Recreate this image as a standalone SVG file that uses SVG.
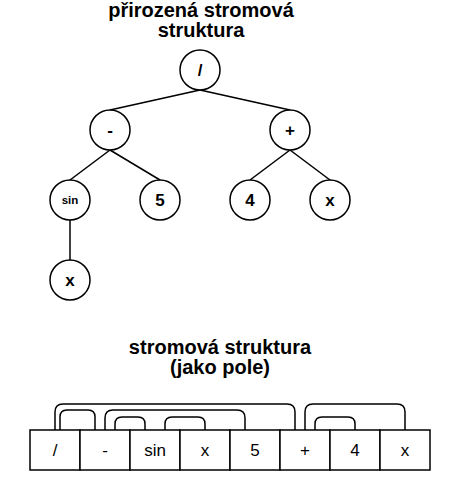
<svg xmlns="http://www.w3.org/2000/svg" width="457" height="490" viewBox="0 0 457 490">
<style>
.title{font-family:"Liberation Sans",Arial,sans-serif;font-size:20px;font-weight:bold;fill:#000;text-anchor:middle}
.node circle{fill:#fff;stroke:#000;stroke-width:1.5}
.node text{font-family:"Liberation Sans",Arial,sans-serif;font-size:17px;font-weight:bold;fill:#000;text-anchor:middle}
.node text.small{font-size:11.5px}
.edges line{stroke:#000;stroke-width:1.5}
.cell rect{fill:#fff;stroke:#000;stroke-width:1.5}
.cell text{font-family:"Liberation Sans",Arial,sans-serif;font-size:17px;fill:#000;text-anchor:middle}
.arcs path{fill:none;stroke:#000;stroke-width:1.5}
</style>
<rect width="457" height="490" fill="#fff"/>
<text class="title" x="201" y="17">přirozená stromová</text>
<text class="title" x="201" y="37">struktura</text>
<g class="edges" id="edges">
<line x1="200" y1="90" x2="110" y2="110"/>
<line x1="200" y1="90" x2="290" y2="110"/>
<line x1="110" y1="150" x2="70" y2="180"/>
<line x1="110" y1="150" x2="160" y2="180"/>
<line x1="290" y1="150" x2="250" y2="180"/>
<line x1="290" y1="150" x2="330" y2="180"/>
<line x1="70" y1="220" x2="70" y2="260"/>
</g>
<g class="node" id="n-div"><circle cx="200" cy="70" r="20"/><text x="200" y="76">/</text></g>
<g class="node" id="n-minus"><circle cx="110" cy="130" r="20"/><text x="110" y="136">-</text></g>
<g class="node" id="n-plus"><circle cx="290" cy="130" r="20"/><text x="290" y="136">+</text></g>
<g class="node" id="n-sin"><circle cx="70" cy="200" r="20"/><text class="small" x="70" y="204">sin</text></g>
<g class="node" id="n-5"><circle cx="160" cy="200" r="20"/><text x="160" y="206">5</text></g>
<g class="node" id="n-4"><circle cx="250" cy="200" r="20"/><text x="250" y="206">4</text></g>
<g class="node" id="n-x2"><circle cx="330" cy="200" r="20"/><text x="330" y="206">x</text></g>
<g class="node" id="n-x1"><circle cx="70" cy="280" r="20"/><text x="70" y="286">x</text></g>
<text class="title" x="220" y="354">stromová struktura</text>
<text class="title" x="220" y="374">(jako pole)</text>
<g class="arcs" id="arcs">
<path d="M55 430V412Q55 404 63 404H287Q295 404 295 412V430"/>
<path d="M60 430V417Q60 410 67 410H88Q95 410 95 417V430"/>
<path d="M105 430V418Q105 410 113 410H237Q245 410 245 418V430"/>
<path d="M115 430V424Q115 417 122 417H138Q145 417 145 424V430"/>
<path d="M165 430V424Q165 417 172 417H198Q205 417 205 424V430"/>
<path d="M305 430V412Q305 404 313 404H397Q405 404 405 412V430"/>
<path d="M315 430V424Q315 417 322 417H348Q355 417 355 424V430"/>
</g>
<g class="cell" id="c0"><rect x="30" y="430" width="50" height="40"/><text x="55" y="456">/</text></g>
<g class="cell" id="c1"><rect x="80" y="430" width="50" height="40"/><text x="105" y="456">-</text></g>
<g class="cell" id="c2"><rect x="130" y="430" width="50" height="40"/><text x="155" y="456">sin</text></g>
<g class="cell" id="c3"><rect x="180" y="430" width="50" height="40"/><text x="205" y="456">x</text></g>
<g class="cell" id="c4"><rect x="230" y="430" width="50" height="40"/><text x="255" y="456">5</text></g>
<g class="cell" id="c5"><rect x="280" y="430" width="50" height="40"/><text x="305" y="456">+</text></g>
<g class="cell" id="c6"><rect x="330" y="430" width="50" height="40"/><text x="355" y="456">4</text></g>
<g class="cell" id="c7"><rect x="380" y="430" width="50" height="40"/><text x="405" y="456">x</text></g>
</svg>
